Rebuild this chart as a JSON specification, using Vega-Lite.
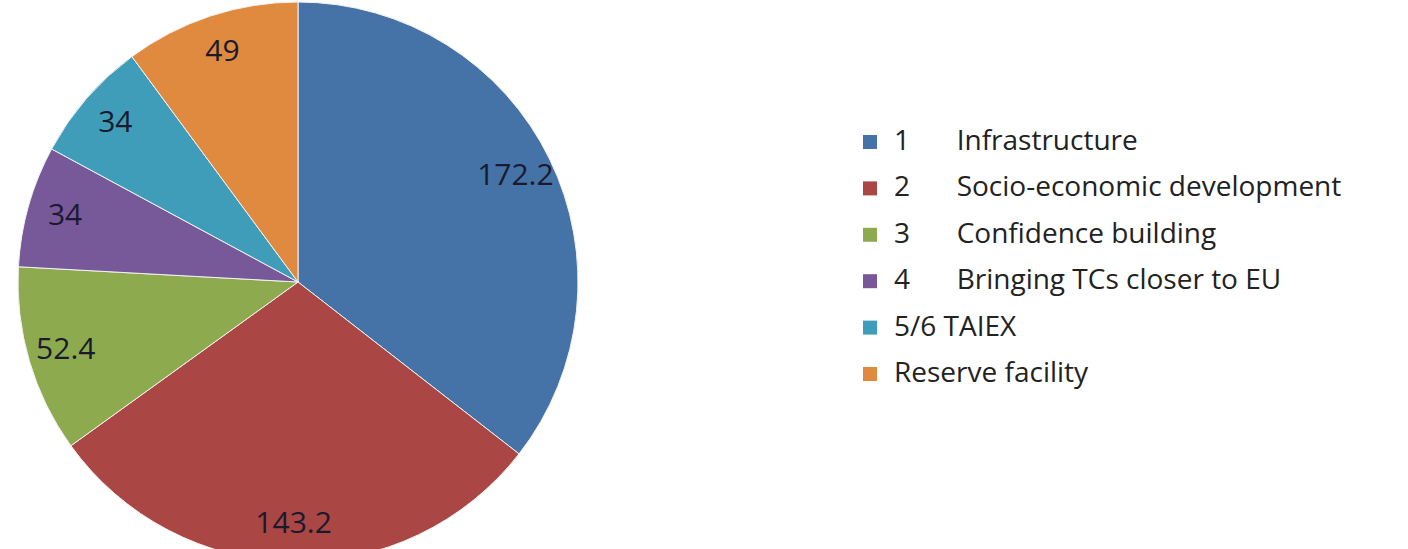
{
  "$schema": "https://vega.github.io/schema/vega-lite/v6.json",
  "width": 596,
  "height": 560,
  "padding": 0,
  "background": "white",
  "data": {
    "values": [
      {"order": 1, "category": "1\u2003\u2002\u2009Infrastructure", "value": 172.2},
      {"order": 2, "category": "2\u2003\u2002\u2009Socio-economic development", "value": 143.2},
      {"order": 3, "category": "3\u2003\u2002\u2009Confidence building", "value": 52.4},
      {"order": 4, "category": "4\u2003\u2002\u2009Bringing TCs closer to EU", "value": 34},
      {"order": 5, "category": "5/6  TAIEX", "value": 34},
      {"order": 6, "category": "Reserve facility", "value": 49}
    ]
  },
  "encoding": {
    "theta": {"field": "value", "type": "quantitative", "stack": true},
    "order": {"field": "order", "type": "quantitative"}
  },
  "layer": [
    {
      "mark": {"type": "arc", "outerRadius": 280, "stroke": "#f2f2f2", "strokeWidth": 1},
      "encoding": {
        "color": {
          "field": "category",
          "type": "nominal",
          "sort": null,
          "scale": {
            "domain": [
              "1\u2003\u2002\u2009Infrastructure",
              "2\u2003\u2002\u2009Socio-economic development",
              "3\u2003\u2002\u2009Confidence building",
              "4\u2003\u2002\u2009Bringing TCs closer to EU",
              "5/6  TAIEX",
              "Reserve facility"
            ],
            "range": ["#4572A7", "#AA4643", "#8DAA4F", "#77599A", "#3F9DBA", "#DF8A3E"]
          },
          "legend": {
            "orient": "none",
            "legendX": 856,
            "legendY": 126,
            "title": null,
            "symbolType": "square",
            "symbolSize": 196,
            "symbolStrokeWidth": 0,
            "labelFont": "Open Sans",
            "labelFontSize": 28,
            "labelColor": "#222222",
            "labelOffset": 10,
            "rowPadding": 18.4,
            "labelLimit": 700
          }
        }
      }
    },
    {
      "mark": {"type": "text", "radius": 242, "font": "Open Sans", "fontSize": 30, "color": "#1a1a2e", "align": "center", "baseline": "middle"},
      "encoding": {
        "text": {"field": "value", "type": "quantitative"}
      }
    }
  ]
}
